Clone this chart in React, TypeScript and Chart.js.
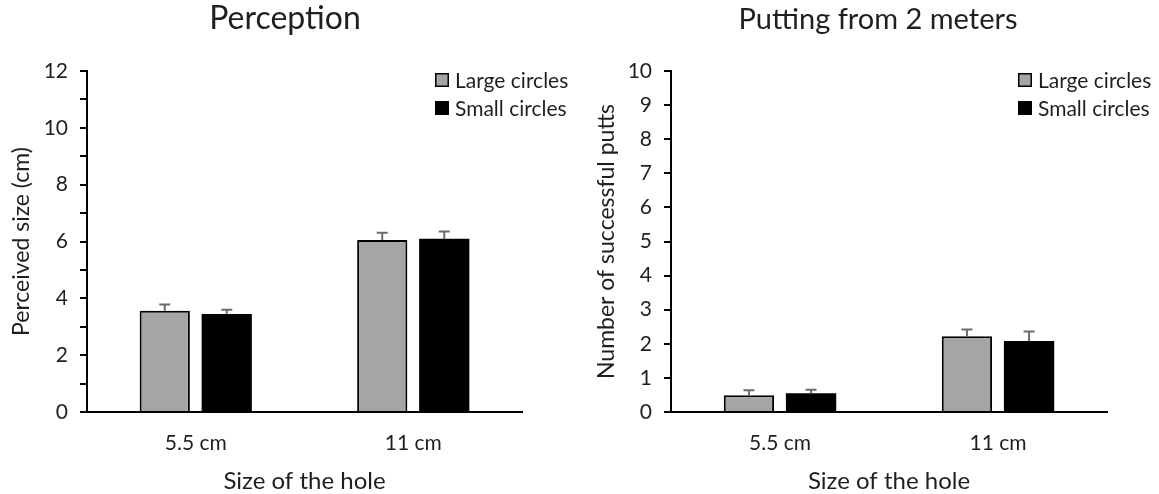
import React, { useEffect, useRef } from 'react';
import { Chart, registerables } from 'chart.js';
Chart.register(...registerables);

const categories = ['5.5 cm', '11 cm'];
const seriesLabels = ['Large circles', 'Small circles'];
const seriesColors = ['#a5a5a5', '#000000'];

const perceptionLarge = [3.56, 6.05];
const perceptionSmall = [3.45, 6.1];
const perceptionLargeErr = [0.22, 0.26];
const perceptionSmallErr = [0.15, 0.25];

const puttsLarge = [0.49, 2.22];
const puttsSmall = [0.55, 2.08];
const puttsLargeErr = [0.15, 0.2];
const puttsSmallErr = [0.1, 0.28];

const perceptionTitle = 'Perception';
const puttsTitle = 'Putting from 2 meters';
const xTitle = 'Size of the hole';
const perceptionYTitle = 'Perceived size (cm)';
const puttsYTitle = 'Number of successful putts';
const perceptionYMax = 12;
const puttsYMax = 10;

const FONT = 'Lato';
const TEXT = '#1f1f1f';

const errorBarPlugin = {
  id: 'errorBars',
  afterDatasetsDraw(chart: any, _args: any, opts: any) {
    const { ctx } = chart;
    const y = chart.scales.y;
    chart.data.datasets.forEach((ds: any, di: number) => {
      const meta = chart.getDatasetMeta(di);
      const errs = opts.errors[di];
      meta.data.forEach((bar: any, i: number) => {
        const top = y.getPixelForValue(ds.data[i] + errs[i]);
        ctx.save();
        ctx.strokeStyle = '#6b6b6b';
        ctx.lineWidth = 2;
        ctx.beginPath();
        ctx.moveTo(bar.x, bar.y);
        ctx.lineTo(bar.x, top);
        ctx.moveTo(bar.x - 5.5, top);
        ctx.lineTo(bar.x + 5.5, top);
        ctx.stroke();
        ctx.restore();
      });
    });
  },
};

const decorPlugin = {
  id: 'decor',
  afterDraw(chart: any, _args: any, opts: any) {
    const { ctx } = chart;
    ctx.save();
    ctx.fillStyle = TEXT;
    ctx.font = `${opts.titleSize}px ${FONT}`;
    ctx.textAlign = 'center';
    ctx.textBaseline = 'alphabetic';
    ctx.fillText(opts.title, opts.titleX, 29);
    ctx.font = `21px ${FONT}`;
    ctx.textAlign = 'left';
    ctx.textBaseline = 'middle';
    chart.data.datasets.forEach((ds: any, i: number) => {
      const cy = 80 + i * 28;
      ctx.fillStyle = ds.backgroundColor;
      ctx.fillRect(opts.legendX, cy - 7, 14, 14);
      ctx.strokeStyle = '#000';
      ctx.lineWidth = 1.5;
      ctx.strokeRect(opts.legendX + 0.75, cy - 6.25, 12.5, 12.5);
      ctx.fillStyle = TEXT;
      ctx.fillText(ds.label, opts.legendX + 20, cy + 1);
    });
    ctx.restore();
  },
};

function makeConfig(p: any): any {
  return {
    type: 'bar',
    data: {
      labels: categories,
      datasets: [
        {
          label: seriesLabels[0],
          data: p.large,
          backgroundColor: seriesColors[0],
          borderColor: '#000',
          borderWidth: 2,
          categoryPercentage: 0.57,
          barPercentage: 0.81,
        },
        {
          label: seriesLabels[1],
          data: p.small,
          backgroundColor: seriesColors[1],
          borderColor: '#000',
          borderWidth: 0,
          categoryPercentage: 0.57,
          barPercentage: 0.81,
        },
      ],
    },
    options: {
      responsive: false,
      animation: false,
      devicePixelRatio: 1,
      layout: { padding: { left: 0, right: p.padRight, top: 71, bottom: 0 } },
      plugins: {
        legend: { display: false },
        title: { display: false },
        tooltip: { enabled: false },
        errorBars: { errors: p.errors },
        decor: { title: p.title, titleX: p.titleX, titleSize: p.titleSize, legendX: p.legendX },
      },
      scales: {
        x: {
          grid: { display: false },
          border: { display: true, color: '#000', width: 2 },
          ticks: { color: TEXT, font: { family: FONT, size: 21 }, padding: 11 },
          title: {
            display: true,
            text: xTitle,
            color: TEXT,
            font: { family: FONT, size: 24 },
            padding: { top: 0, bottom: -2 },
          },
          afterFit: (s: any) => {
            s.height = 82;
          },
        },
        y: {
          min: 0,
          max: p.yMax,
          grid: {
            display: true,
            drawOnChartArea: false,
            drawTicks: true,
            tickLength: 7,
            color: '#000',
            lineWidth: 2,
          },
          border: { display: true, color: '#000', width: 2 },
          ticks: {
            stepSize: 1,
            color: TEXT,
            font: { family: FONT, size: 21 },
            padding: p.tickPad,
            callback: (v: any) => (v % p.labelEvery === 0 ? String(v) : ''),
          },
          title: {
            display: true,
            text: p.yTitle,
            color: TEXT,
            font: { family: FONT, size: 23 },
            padding: { top: p.yTitlePad, bottom: 0 },
          },
          afterFit: (s: any) => {
            s.width = p.axisLeft;
          },
        },
      },
    },
    plugins: [errorBarPlugin, decorPlugin],
  };
}

function BarPanel(props: { cfg: any; left: number; width: number }) {
  const ref = useRef<HTMLCanvasElement>(null);
  useEffect(() => {
    const chart = new Chart(ref.current as HTMLCanvasElement, makeConfig(props.cfg));
    return () => chart.destroy();
  }, []);
  return (
    <canvas
      ref={ref}
      width={props.width}
      height={494}
      style={{ position: 'absolute', left: props.left, top: 0, width: props.width, height: 494 }}
    />
  );
}

export default function App() {
  const left = {
    large: perceptionLarge,
    small: perceptionSmall,
    errors: [perceptionLargeErr, perceptionSmallErr],
    yMax: perceptionYMax,
    labelEvery: 2,
    title: perceptionTitle,
    titleSize: 32,
    yTitle: perceptionYTitle,
    titleX: 285,
    legendX: 435,
    axisLeft: 87,
    padRight: 58,
    tickPad: 12,
    yTitlePad: 8,
  };
  const right = {
    large: puttsLarge,
    small: puttsSmall,
    errors: [puttsLargeErr, puttsSmallErr],
    yMax: puttsYMax,
    labelEvery: 1,
    title: puttsTitle,
    titleSize: 29,
    yTitle: puttsYTitle,
    titleX: 298,
    legendX: 438,
    axisLeft: 91,
    padRight: 52,
    tickPad: 12,
    yTitlePad: 13,
  };
  return (
    <div style={{ position: 'absolute', left: 0, top: 0, width: 1159, height: 494, background: '#fff' }}>
      <BarPanel cfg={left} left={0} width={580} />
      <BarPanel cfg={right} left={580} width={579} />
    </div>
  );
}
